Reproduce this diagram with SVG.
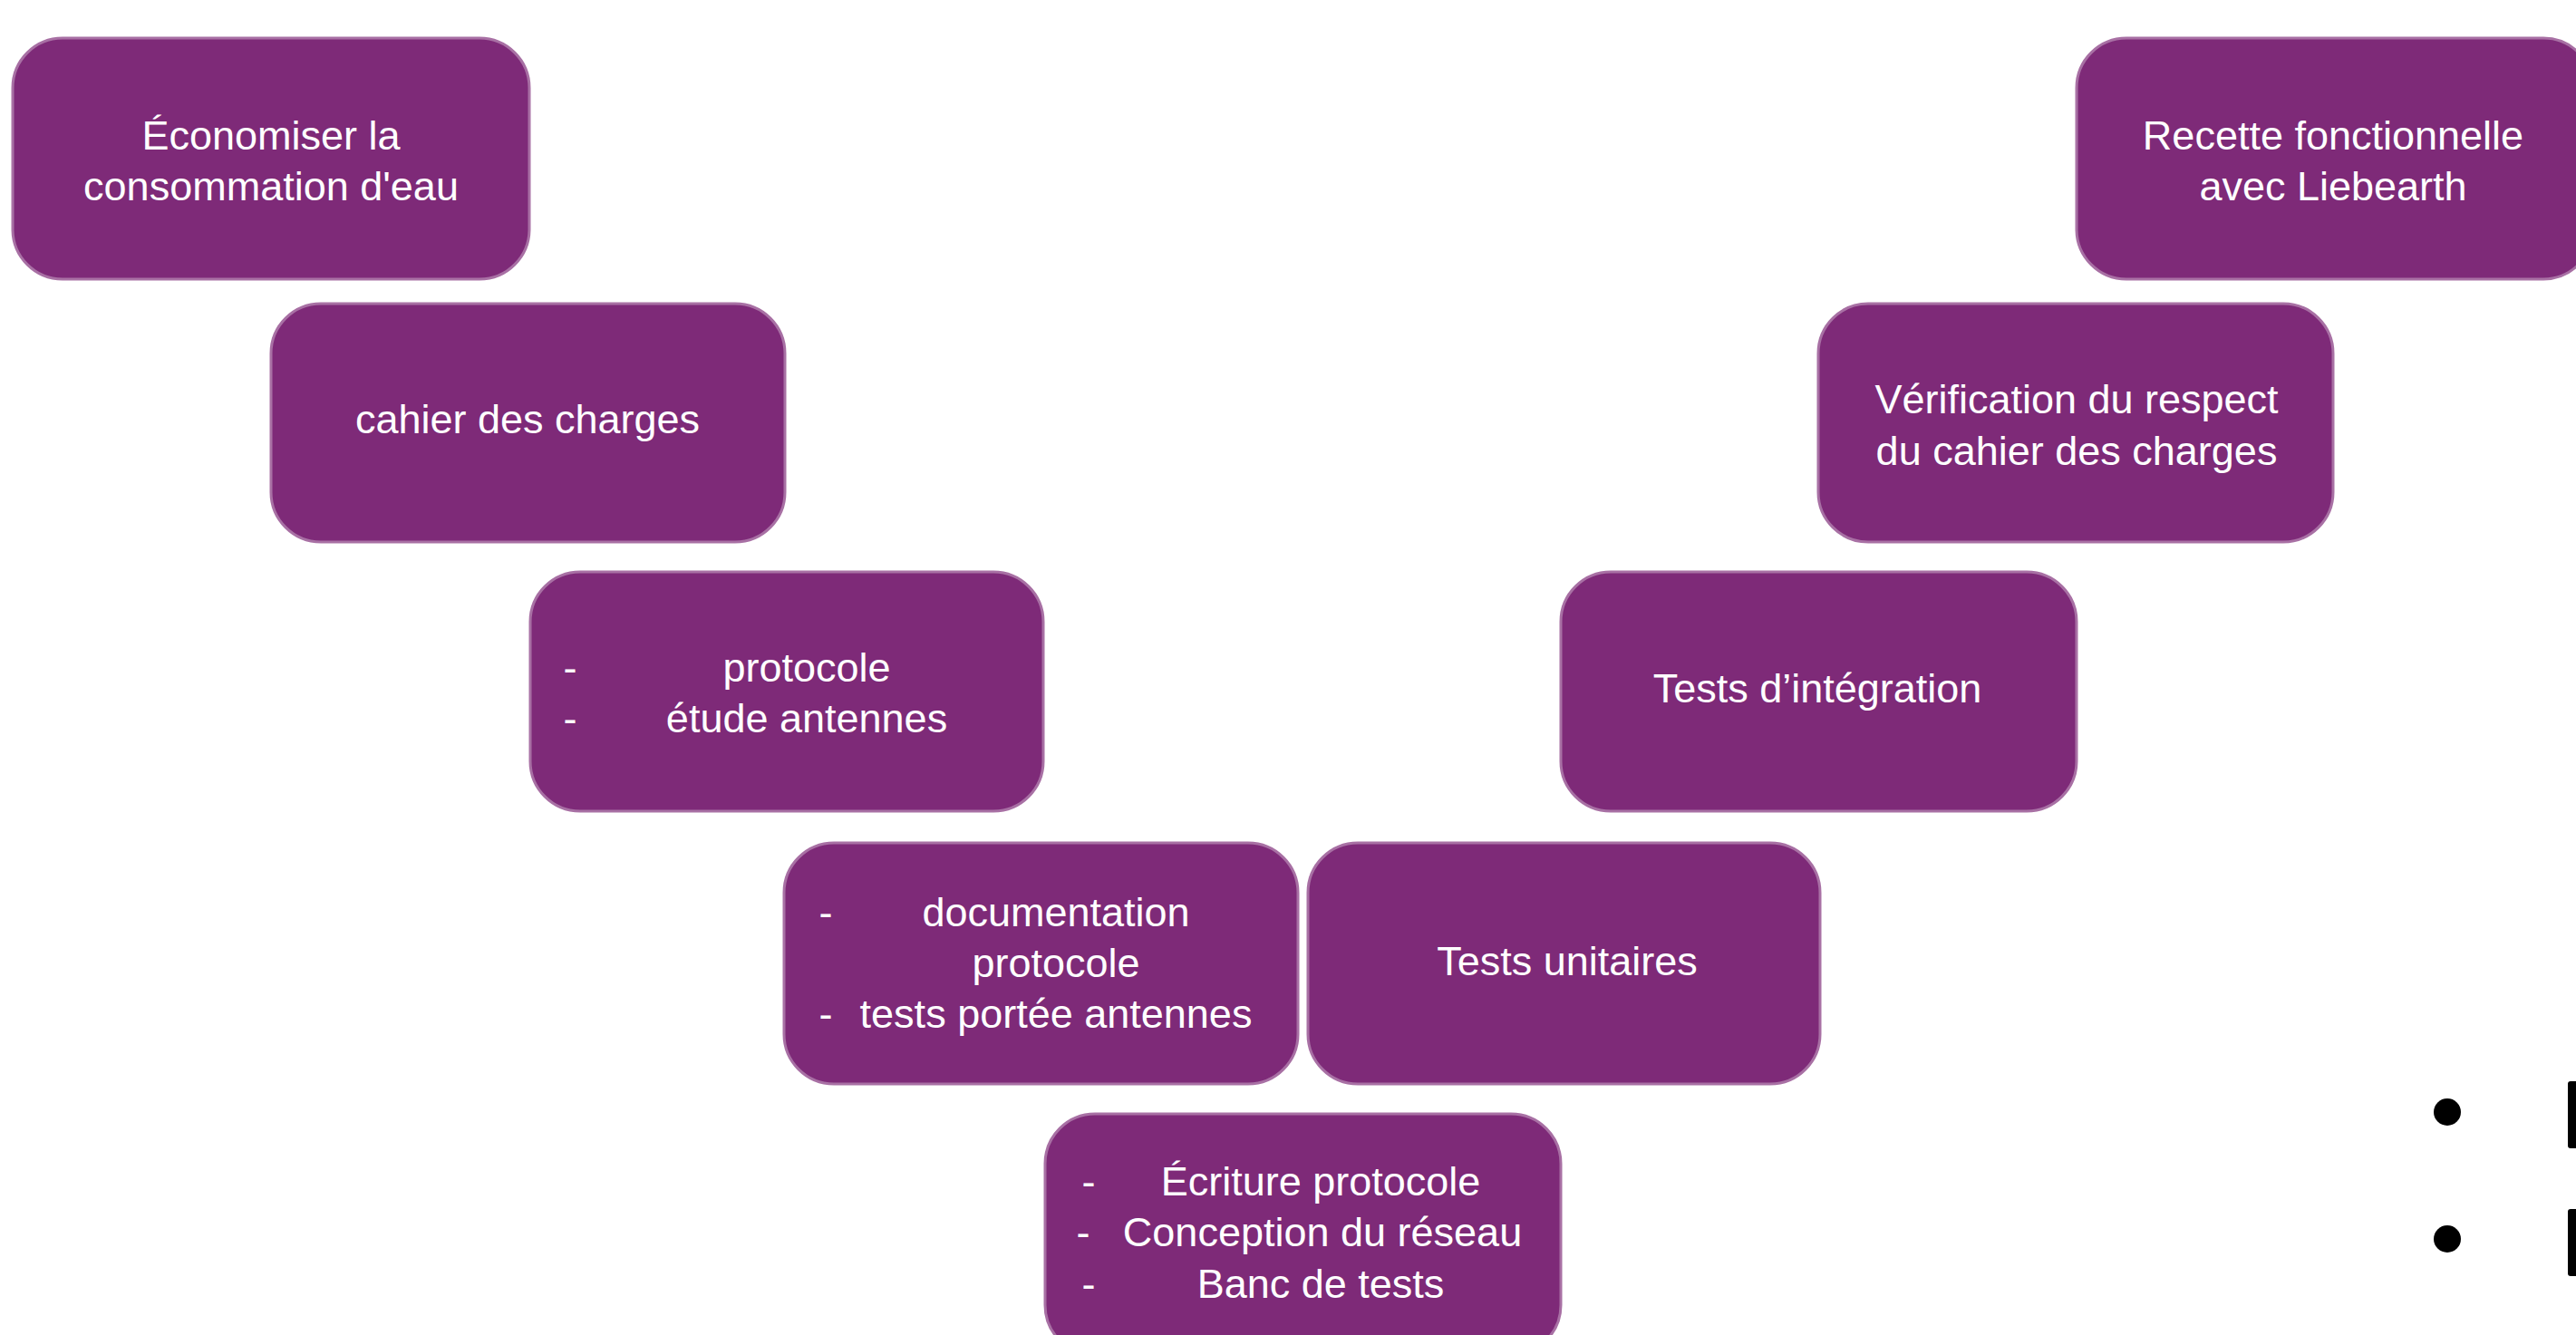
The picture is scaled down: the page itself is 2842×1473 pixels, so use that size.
<svg xmlns="http://www.w3.org/2000/svg" width="2842" height="1473" viewBox="0 0 2842 1473">
<style>
.box{fill:#7E2A78;stroke:#A870A4;stroke-width:3}
.t{font-family:"Liberation Sans",Arial,Helvetica,sans-serif;font-size:45px;fill:#FFFFFF;text-anchor:middle}
.d{font-family:"Liberation Sans",Arial,Helvetica,sans-serif;font-size:45px;fill:#FFFFFF;text-anchor:middle}
</style>
<rect width="2842" height="1473" fill="#FFFFFF"/>
<g id="connectors"></g>
<g id="n1"><rect class="box" x="14" y="42" width="570" height="266" rx="55"/>
<text class="t" x="299" y="165">Économiser la</text>
<text class="t" x="299" y="221">consommation d'eau</text></g>
<g id="n2"><rect class="box" x="299" y="335" width="567" height="263" rx="55"/>
<text class="t" x="582" y="478">cahier des charges</text></g>
<g id="n3"><rect class="box" x="585" y="631" width="566" height="264" rx="55"/>
<text class="d" x="629" y="752">-</text>
<text class="d" x="629" y="808">-</text>
<text class="t" x="890" y="752">protocole</text>
<text class="t" x="890" y="808">étude antennes</text></g>
<g id="n4"><rect class="box" x="865" y="930" width="567" height="266" rx="55"/>
<text class="d" x="911" y="1022">-</text>
<text class="d" x="911" y="1134">-</text>
<text class="t" x="1165" y="1022">documentation</text>
<text class="t" x="1165" y="1078">protocole</text>
<text class="t" x="1165" y="1134">tests portée antennes</text></g>
<g id="n5"><rect class="box" x="1153" y="1229" width="569" height="266" rx="55"/>
<text class="d" x="1201" y="1319">-</text>
<text class="d" x="1195" y="1375">-</text>
<text class="d" x="1201" y="1432">-</text>
<text class="t" x="1457" y="1319">Écriture protocole</text>
<text class="t" x="1459" y="1375">Conception du réseau</text>
<text class="t" x="1457" y="1432">Banc de tests</text></g>
<g id="n6"><rect class="box" x="1443" y="930" width="565" height="266" rx="55"/>
<text class="t" x="1729" y="1076">Tests unitaires</text></g>
<g id="n7"><rect class="box" x="1722" y="631" width="569" height="264" rx="55"/>
<text class="t" x="2005" y="775">Tests d’intégration</text></g>
<g id="n8"><rect class="box" x="2006" y="335" width="568" height="263" rx="55"/>
<text class="t" x="2291" y="456">Vérification du respect</text>
<text class="t" x="2291" y="513">du cahier des charges</text></g>
<g id="n9"><rect class="box" x="2291" y="42" width="570" height="266" rx="55"/>
<text class="t" x="2574" y="165">Recette fonctionnelle</text>
<text class="t" x="2574" y="221">avec Liebearth</text></g>
<g id="bullets">
<circle cx="2700" cy="1227" r="15" fill="#000000"/>
<circle cx="2700" cy="1367" r="15" fill="#000000"/>
<rect x="2833" y="1193" width="14" height="74" rx="3" fill="#000000"/>
<rect x="2833" y="1334" width="14" height="74" rx="3" fill="#000000"/>
</g>
</svg>
